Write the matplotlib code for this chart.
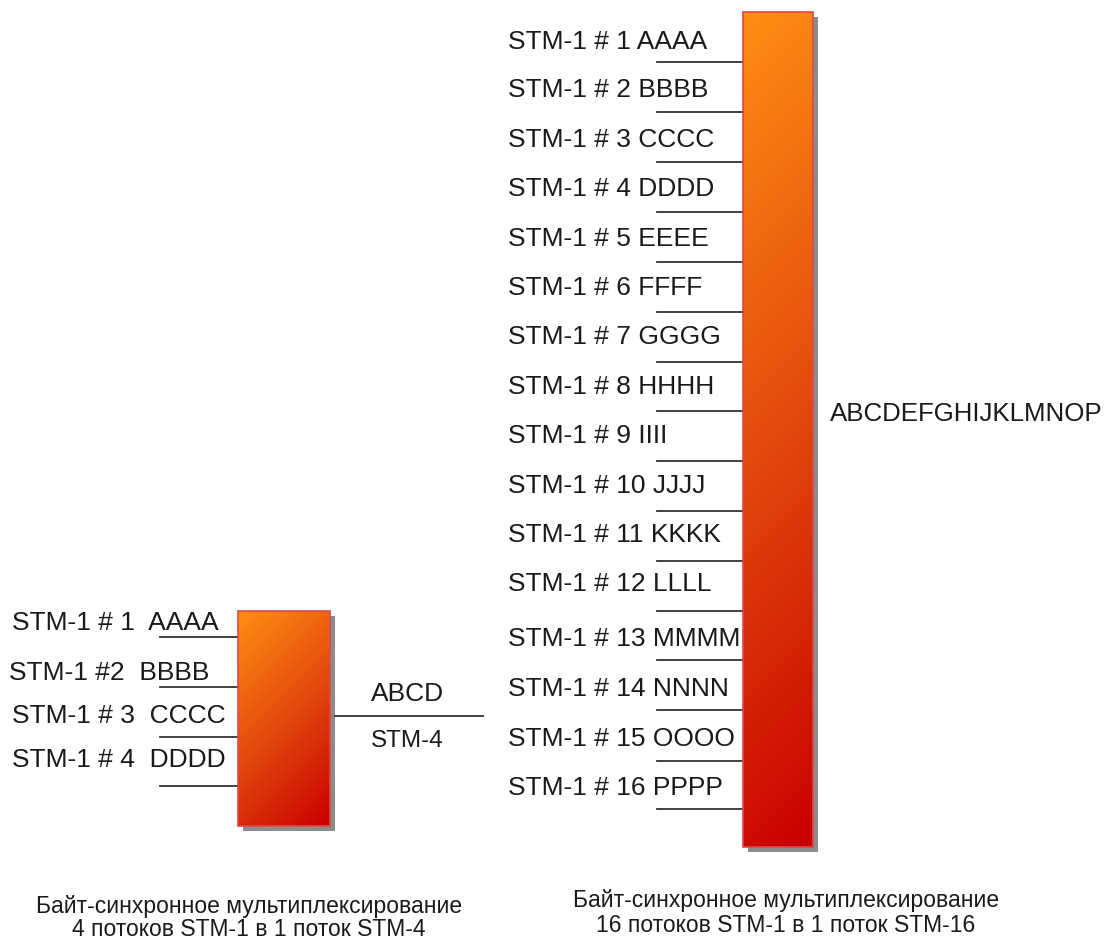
import numpy as np
import matplotlib.pyplot as plt
from matplotlib.colors import LinearSegmentedColormap
from matplotlib.patches import Rectangle

# ---- data (pixel layout of the reference diagram) ----
SMALL_LABELS = ["STM-1 # 1  AAAA", "STM-1 #2  BBBB", "STM-1 # 3  CCCC", "STM-1 # 4  DDDD"]
SMALL_LABEL_X = [12, 9, 12, 12]
SMALL_LABEL_Y = [623, 673, 716, 760]
SMALL_LINE_Y = [637, 687, 737, 786]

BIG_LABELS = ["STM-1 # %d %s" % (i + 1, ch * 4) for i, ch in enumerate("ABCDEFGHIJKLMNOP")]
BIG_LABEL_Y = [42, 90, 140, 189, 239, 288, 337, 387, 436, 486, 535, 584, 639, 689, 739, 788]
BIG_LINE_Y = [62, 112, 162, 212, 262, 312, 362, 411, 461, 511, 561, 611, 660, 710, 761, 809]

SMALL_BOX = (238, 611, 92, 215)   # x, y, w, h
BIG_BOX = (743, 12, 70, 835)

CAPTION_LEFT = ["Байт-синхронное мультиплексирование", "4 потоков STM-1 в 1 поток STM-4"]
CAPTION_RIGHT = ["Байт-синхронное мультиплексирование", "16 потоков STM-1 в 1 поток STM-16"]

W, H = 1109, 942
TXT = "#1a1a1a"
FONT = ["Liberation Sans", "DejaVu Sans"]
FS = 19

cmap = LinearSegmentedColormap.from_list("grad", ["#ff8e14", "#e24a0e", "#c80000"])

fig = plt.figure(figsize=(W / 100, H / 100), dpi=100)
ax = fig.add_axes([0, 0, 1, 1])
ax.set_xlim(0, W)
ax.set_ylim(H, 0)
ax.axis("off")


def draw_box(box):
    x, y, w, h = box
    # shadow
    ax.add_patch(Rectangle((x + 5, y + 5), w, h, facecolor="#8c8c8c",
                           edgecolor="none", zorder=1))
    xs = np.arange(w)
    ys = np.arange(h)
    gx, gy = np.meshgrid(xs, ys)
    t = (gx + gy) / float(w + h)
    ax.imshow(t, cmap=cmap, extent=(x, x + w, y + h, y), aspect="auto",
              interpolation="bilinear", zorder=2)
    ax.add_patch(Rectangle((x, y), w, h, facecolor="none",
                           edgecolor="#e04848", linewidth=1.2, zorder=3))


draw_box(SMALL_BOX)
draw_box(BIG_BOX)

# small multiplexer inputs
for lab, lx, ly, liney in zip(SMALL_LABELS, SMALL_LABEL_X, SMALL_LABEL_Y, SMALL_LINE_Y):
    ax.text(lx, ly, lab, fontsize=FS, family=FONT, color=TXT, va="center", ha="left")
    ax.plot([160, SMALL_BOX[0]], [liney, liney], color="#333333", lw=1.3)

# small output
ax.plot([335, 483], [716, 716], color="#333333", lw=1.3)
ax.text(371, 694, "ABCD", fontsize=FS, family=FONT, color=TXT, va="center")
ax.text(371, 741, "STM-4", fontsize=17.5, family=FONT, color=TXT, va="center")

# big multiplexer inputs
for lab, ly, liney in zip(BIG_LABELS, BIG_LABEL_Y, BIG_LINE_Y):
    ax.text(508, ly, lab, fontsize=FS, family=FONT, color=TXT, va="center", ha="left")
    ax.plot([657, BIG_BOX[0]], [liney, liney], color="#333333", lw=1.3)

ax.text(830, 414, "ABCDEFGHIJKLMNOP", fontsize=18.6, family=FONT, color=TXT, va="center")

# captions
for i, line in enumerate(CAPTION_LEFT):
    ax.text(249, 906 + i * 24, line, fontsize=16.5, family=FONT, color=TXT,
            va="center", ha="center")
for i, line in enumerate(CAPTION_RIGHT):
    ax.text(786, 901 + i * 25, line, fontsize=16.5, family=FONT, color=TXT,
            va="center", ha="center")

fig.savefig("out.png", dpi=100)
